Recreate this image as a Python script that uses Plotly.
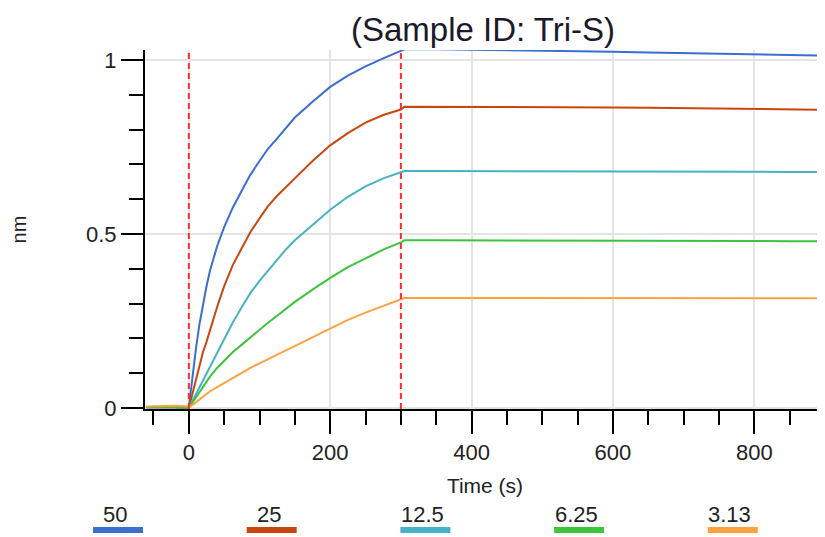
import plotly.graph_objects as go

# ---- data ----
times = [-60, -40, -20, 0,
         5, 10, 15, 20, 25, 30, 40, 50, 62, 75, 87, 100, 112, 125, 137, 150, 175, 200, 225, 250, 275, 300,
         305, 350, 400, 450, 500, 550, 600, 650, 700, 750, 800, 850, 900]

series_names = ["50", "25", "12.5", "6.25", "3.13"]
series_colors = ["#3a6fd0", "#c8470f", "#47b2c6", "#3cc43c", "#ffa13f"]

conc_50 = [0.002, 0.003, 0.002, 0.0,
           0.09, 0.17, 0.24, 0.30, 0.35, 0.395, 0.465, 0.52, 0.575, 0.625, 0.67, 0.71, 0.745, 0.775,
           0.805, 0.835, 0.88, 0.923, 0.955, 0.982, 1.005, 1.026,
           1.031, 1.031, 1.030, 1.029, 1.027, 1.026, 1.024, 1.022, 1.020, 1.018, 1.016, 1.015, 1.013]
conc_25 = [0.002, 0.003, 0.002, 0.0,
           0.04, 0.08, 0.12, 0.16, 0.19, 0.225, 0.29, 0.35, 0.41, 0.46, 0.505, 0.545, 0.58, 0.61,
           0.635, 0.66, 0.71, 0.755, 0.79, 0.82, 0.842, 0.858,
           0.866, 0.866, 0.866, 0.865, 0.865, 0.864, 0.864, 0.863, 0.862, 0.861, 0.860, 0.859, 0.857]
conc_12_5 = [0.002, 0.003, 0.003, 0.0,
             0.02, 0.04, 0.06, 0.08, 0.10, 0.12, 0.16, 0.20, 0.245, 0.29, 0.33, 0.365, 0.395, 0.425,
             0.455, 0.482, 0.527, 0.57, 0.607, 0.637, 0.66, 0.676,
             0.681, 0.681, 0.681, 0.681, 0.680, 0.680, 0.680, 0.680, 0.679, 0.679, 0.679, 0.678, 0.678]
conc_6_25 = [0.003, 0.004, 0.003, 0.0,
             0.015, 0.03, 0.045, 0.06, 0.075, 0.09, 0.115, 0.135, 0.16, 0.182, 0.203, 0.225, 0.245, 0.265,
             0.285, 0.305, 0.34, 0.374, 0.405, 0.43, 0.455, 0.476,
             0.482, 0.482, 0.482, 0.482, 0.481, 0.481, 0.481, 0.481, 0.480, 0.480, 0.480, 0.479, 0.479]
conc_3_13 = [0.004, 0.006, 0.006, 0.004,
             0.008, 0.016, 0.024, 0.032, 0.04, 0.048, 0.06, 0.072, 0.086, 0.10, 0.115, 0.128, 0.14, 0.153,
             0.166, 0.18, 0.205, 0.23, 0.253, 0.274, 0.293, 0.31,
             0.316, 0.316, 0.316, 0.316, 0.316, 0.316, 0.316, 0.316, 0.315, 0.315, 0.315, 0.315, 0.315]

series_values = [conc_50, conc_25, conc_12_5, conc_6_25, conc_3_13]
event_times = [0, 300]

title_text = "(Sample ID: Tri-S)"
x_title = "Time (s)"
y_title = "nm"

FONT = "Liberation Sans, Arial, sans-serif"

# the page body adds an 8px offset; work in screen pixels minus that offset
OFF = 8
FIG_W, FIG_H = 825 - OFF, 537 - OFF
L, R, T, B = 145 - OFF, 825 - OFF, 50 - OFF, 409 - OFF
W, H = R - L, B - T

fig = go.Figure()
for name, color, vals in zip(series_names, series_colors, series_values):
    fig.add_trace(go.Scatter(x=times, y=vals, mode="lines", name=name,
                             line=dict(color=color, width=2), showlegend=False))

shapes = []
for t in event_times:
    shapes.append(dict(type="line", xref="x", yref="paper", x0=t, x1=t, y0=0, y1=1,
                       line=dict(color="#ff2a2a", width=2, dash="6px,4px")))

# custom legend: text above a thick colour bar
annotations = []
for i, (name, color) in enumerate(zip(series_names, series_colors)):
    cx = 118 + 153.7 * i - OFF
    ly = 530 - OFF
    ty = 514 - OFF
    shapes.append(dict(type="line", xref="paper", yref="paper",
                       x0=(cx - 25 - L) / W, x1=(cx + 25 - L) / W,
                       y0=(B - ly) / H, y1=(B - ly) / H,
                       line=dict(color=color, width=6)))
    annotations.append(dict(xref="paper", yref="paper", x=(cx - 3 - L) / W, y=(B - ty) / H,
                            text=name, showarrow=False, xanchor="center", yanchor="middle",
                            font=dict(size=22, color="#222", family=FONT)))

fig.update_layout(
    width=FIG_W, height=FIG_H,
    margin=dict(l=L, r=FIG_W - R, t=T, b=FIG_H - B, autoexpand=False),
    paper_bgcolor="white", plot_bgcolor="white",
    font=dict(family=FONT, size=22, color="#222"),
    showlegend=False,
    title=dict(text=title_text, x=(483 - OFF) / FIG_W, xref="container", xanchor="center",
               y=1 - (29 - OFF) / FIG_H, yref="container", yanchor="middle", automargin=False,
               font=dict(size=33, color="#1a1a2a", family=FONT)),
    shapes=shapes,
    annotations=annotations,
    xaxis=dict(range=[-62, 900], tick0=0, dtick=200, ticks="outside", ticklen=23,
               tickwidth=2, tickcolor="black", showline=True, linecolor="black", linewidth=2,
               showgrid=True, gridcolor="#e4e4e4", gridwidth=2, zeroline=False, automargin=False,
               minor=dict(tick0=0, dtick=50, ticks="outside", ticklen=14, tickwidth=2,
                          tickcolor="black", showgrid=False),
               title=dict(text=x_title, standoff=14, font=dict(size=21)),
               tickfont=dict(size=22)),
    yaxis=dict(range=[-0.003, 1.029], tick0=0, dtick=0.5, ticks="outside", ticklen=22,
               tickwidth=2, tickcolor="black", showline=True, linecolor="black", linewidth=2,
               showgrid=True, gridcolor="#e4e4e4", gridwidth=2, zeroline=False, automargin=False,
               minor=dict(tick0=0, dtick=0.1, ticks="outside", ticklen=14, tickwidth=2,
                          tickcolor="black", showgrid=False),
               title=dict(text=y_title, standoff=56, font=dict(size=20)),
               tickfont=dict(size=22)),
)

fig.write_html("out.html")
